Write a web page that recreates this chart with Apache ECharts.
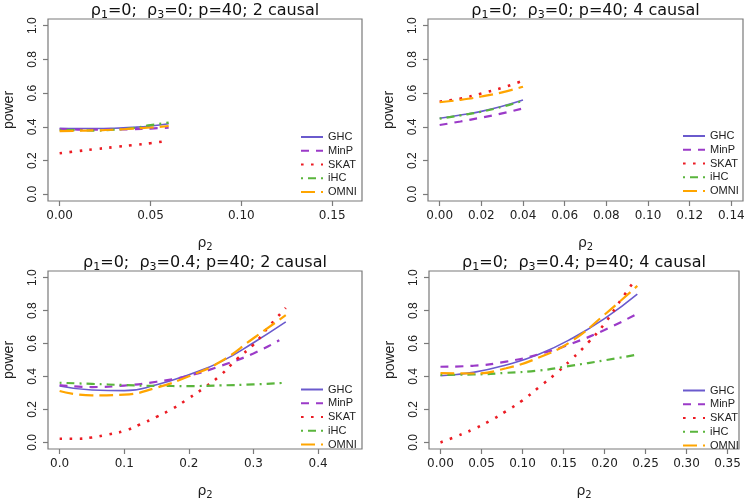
<!DOCTYPE html>
<html><head><meta charset="utf-8">
<script src="https://cdn.jsdelivr.net/npm/echarts@6/dist/echarts.min.js"></script>
<style>html,body{margin:0;padding:0;background:#fff}#c{width:752px;height:501px}</style>
</head><body><div id="c"></div>
<script>
const methods = ['GHC', 'MinP', 'SKAT', 'iHC', 'OMNI'];
const yTicks = [0, 0.2, 0.4, 0.6, 0.8, 1.0];

// Panel 1: rho1=0; rho3=0; p=40; 2 causal
const p1_x = [0, 0.01, 0.02, 0.03, 0.04, 0.05, 0.06];
const p1_GHC = [0.392, 0.390, 0.390, 0.392, 0.397, 0.405, 0.418];
const p1_MinP = [0.386, 0.384, 0.383, 0.384, 0.386, 0.390, 0.395];
const p1_SKAT = [0.243, 0.256, 0.268, 0.280, 0.291, 0.303, 0.318];
const p1_iHC = [0.380, 0.380, 0.378, 0.383, 0.392, 0.410, 0.425];
const p1_OMNI = [0.375, 0.377, 0.379, 0.383, 0.389, 0.396, 0.405];
const p1_xTicks = [0, 0.05, 0.10, 0.15];

// Panel 2: rho1=0; rho3=0; p=40; 4 causal
const p2_x = [0, 0.01, 0.02, 0.03, 0.04];
const p2_GHC = [0.451, 0.470, 0.492, 0.522, 0.559];
const p2_MinP = [0.411, 0.432, 0.455, 0.480, 0.510];
const p2_SKAT = [0.550, 0.568, 0.598, 0.632, 0.674];
const p2_iHC = [0.449, 0.468, 0.490, 0.519, 0.555];
const p2_OMNI = [0.546, 0.560, 0.580, 0.605, 0.638];
const p2_xTicks = [0, 0.02, 0.04, 0.06, 0.08, 0.10, 0.12, 0.14];

// Panel 3: rho1=0; rho3=0.4; p=40; 2 causal
const p3_x = [0, 0.05, 0.10, 0.15, 0.20, 0.25, 0.30, 0.35];
const p3_GHC = [0.342, 0.318, 0.314, 0.350, 0.411, 0.490, 0.605, 0.731];
const p3_MinP_x = [0, 0.05, 0.10, 0.15, 0.20, 0.25, 0.30, 0.34];
const p3_MinP = [0.348, 0.336, 0.345, 0.368, 0.405, 0.465, 0.540, 0.620];
const p3_SKAT_x = [0, 0.025, 0.05, 0.075, 0.10, 0.125, 0.15, 0.175, 0.20, 0.225, 0.25, 0.275, 0.30, 0.325, 0.35];
const p3_SKAT = [0.022, 0.022, 0.030, 0.048, 0.070, 0.110, 0.155, 0.205, 0.268, 0.335, 0.411, 0.508, 0.593, 0.708, 0.816];
const p3_iHC = [0.362, 0.355, 0.348, 0.343, 0.342, 0.346, 0.352, 0.362];
const p3_OMNI = [0.312, 0.285, 0.290, 0.332, 0.401, 0.492, 0.632, 0.772];
const p3_xTicks = [0, 0.1, 0.2, 0.3, 0.4];

// Panel 4: rho1=0; rho3=0.4; p=40; 4 causal
const p4_x = [0, 0.04, 0.08, 0.12, 0.16, 0.20, 0.24];
const p4_GHC = [0.404, 0.425, 0.470, 0.535, 0.630, 0.751, 0.900];
const p4_MinP = [0.459, 0.465, 0.490, 0.535, 0.600, 0.682, 0.781];
const p4_SKAT_x = [0, 0.02, 0.04, 0.06, 0.08, 0.10, 0.12, 0.14, 0.16, 0.18, 0.20, 0.22, 0.235];
const p4_SKAT = [0.000, 0.038, 0.080, 0.130, 0.190, 0.255, 0.335, 0.415, 0.505, 0.605, 0.720, 0.865, 0.970];
const p4_iHC = [0.410, 0.412, 0.422, 0.436, 0.466, 0.498, 0.533];
const p4_OMNI = [0.420, 0.418, 0.450, 0.515, 0.615, 0.775, 0.950];
const p4_xTicks = [0, 0.05, 0.10, 0.15, 0.20, 0.25, 0.30, 0.35];

const panels = [
  { rho3: '0', causal: '2', xTicks: p1_xTicks, dec: 2,
    xs: { GHC: p1_x, MinP: p1_x, SKAT: p1_x, iHC: p1_x, OMNI: p1_x },
    ys: { GHC: p1_GHC, MinP: p1_MinP, SKAT: p1_SKAT, iHC: p1_iHC, OMNI: p1_OMNI },
    grid: { left: 48, top: 19, width: 314, height: 182 }, xmin: -0.0064, xmax: 0.1664, legend: { left: 300, top: 131.5 } },
  { rho3: '0', causal: '4', xTicks: p2_xTicks, dec: 2,
    xs: { GHC: p2_x, MinP: p2_x, SKAT: p2_x, iHC: p2_x, OMNI: p2_x },
    ys: { GHC: p2_GHC, MinP: p2_MinP, SKAT: p2_SKAT, iHC: p2_iHC, OMNI: p2_OMNI },
    grid: { left: 428, top: 19, width: 315, height: 182 }, xmin: -0.0056, xmax: 0.1456, legend: { left: 682, top: 130.5 } },
  { rho3: '0.4', causal: '2', xTicks: p3_xTicks, dec: 1,
    xs: { GHC: p3_x, MinP: p3_MinP_x, SKAT: p3_SKAT_x, iHC: p3_x, OMNI: p3_x },
    ys: { GHC: p3_GHC, MinP: p3_MinP, SKAT: p3_SKAT, iHC: p3_iHC, OMNI: p3_OMNI },
    grid: { left: 48, top: 271, width: 314, height: 181 }, xmin: -0.018, xmax: 0.468, legend: { left: 300, top: 384 } },
  { rho3: '0.4', causal: '4', xTicks: p4_xTicks, dec: 2,
    xs: { GHC: p4_x, MinP: p4_x, SKAT: p4_SKAT_x, iHC: p4_x, OMNI: p4_x },
    ys: { GHC: p4_GHC, MinP: p4_MinP, SKAT: p4_SKAT, iHC: p4_iHC, OMNI: p4_OMNI },
    grid: { left: 429, top: 271, width: 310, height: 181 }, xmin: -0.014, xmax: 0.364, legend: { left: 682, top: 385 } }
];

const styles = {
  GHC:  { color: '#6a5acd', width: 1.6, type: 'solid' },
  MinP: { color: '#9b3ac8', width: 2.2, type: [8, 7] },
  SKAT: { color: '#ec1c24', width: 2.6, type: [2.6, 7.4] },
  iHC:  { color: '#5ab53c', width: 2.2, type: [2, 5, 8, 5] },
  OMNI: { color: '#ffa500', width: 2.2, type: [14, 6] }
};

const TF = 'DejaVu Sans';
const AF = 'Liberation Sans';
const option = { animation: false, backgroundColor: '#fff',
  grid: [], xAxis: [], yAxis: [], series: [], title: [], legend: [] };

panels.forEach((p, i) => {
  option.grid.push(Object.assign({ show: true, borderColor: '#7a7a7a', borderWidth: 1.2, containLabel: false }, p.grid));
  option.xAxis.push({
    type: 'value', gridIndex: i, min: p.xmin, max: p.xmax, position: 'bottom',
    axisLine: { show: false, onZero: false },
    axisTick: { show: true, inside: false, length: 5, customValues: p.xTicks, lineStyle: { color: '#7a7a7a', width: 1.2 } },
    axisLabel: { customValues: p.xTicks, margin: 9, fontSize: 12, fontFamily: TF, color: '#222',
      formatter: v => v.toFixed(p.dec) },
    splitLine: { show: false },
    name: '{r|ρ}{s|2}', nameLocation: 'middle', nameGap: 33,
    nameTextStyle: { rich: {
      r: { fontSize: 14, fontFamily: TF, color: '#222', lineHeight: 18 },
      s: { fontSize: 10, fontFamily: TF, color: '#222', lineHeight: 9, verticalAlign: 'bottom' } } }
  });
  option.yAxis.push({
    type: 'value', gridIndex: i, min: -0.04, max: 1.04, position: 'left',
    axisLine: { show: false, onZero: false },
    axisTick: { show: true, inside: false, length: 5, customValues: yTicks, lineStyle: { color: '#7a7a7a', width: 1.2 } },
    axisLabel: { customValues: yTicks, rotate: 90, margin: 9, fontSize: 12, fontFamily: AF, color: '#222',
      formatter: v => v.toFixed(1) },
    splitLine: { show: false },
    name: 'power', nameLocation: 'middle', nameGap: 32,
    nameTextStyle: { fontSize: 14, fontFamily: AF, color: '#222' }
  });
  option.title.push({
    text: '{r|ρ}{s|1}{r|=0;  ρ}{s|3}{r|=' + p.rho3 + '; p=40; ' + p.causal + ' causal}',
    left: p.grid.left + p.grid.width / 2, textAlign: 'center', top: p.grid.top - 18, padding: 0,
    textStyle: { fontWeight: 'normal', rich: {
      r: { fontSize: 16, fontFamily: TF, fontWeight: 'normal', color: '#111', lineHeight: 20 },
      s: { fontSize: 11, fontFamily: TF, fontWeight: 'normal', color: '#111', lineHeight: 9, verticalAlign: 'bottom' } } }
  });
  option.legend.push({
    left: p.legend.left, top: p.legend.top, orient: 'vertical', selectedMode: false,
    itemWidth: 22, itemHeight: 10, itemGap: 2.75, padding: 0,
    itemStyle: { opacity: 0 },
    textStyle: { fontSize: 11, fontFamily: AF, color: '#222' },
    data: methods
  });
  methods.forEach(m => {
    const xs = p.xs[m], ys = p.ys[m];
    option.series.push({
      type: 'line', name: m, xAxisIndex: i, yAxisIndex: i,
      data: xs.map((x, k) => [x, ys[k]]),
      smooth: true, symbol: 'none', showSymbol: false, clip: true,
      lineStyle: { color: styles[m].color, width: styles[m].width, type: styles[m].type, cap: 'butt' },
      itemStyle: { color: styles[m].color },
      emphasis: { disabled: true }
    });
  });
});

const chart = echarts.init(document.getElementById('c'), null, { renderer: 'canvas' });
chart.setOption(option);
</script>
</body></html>
